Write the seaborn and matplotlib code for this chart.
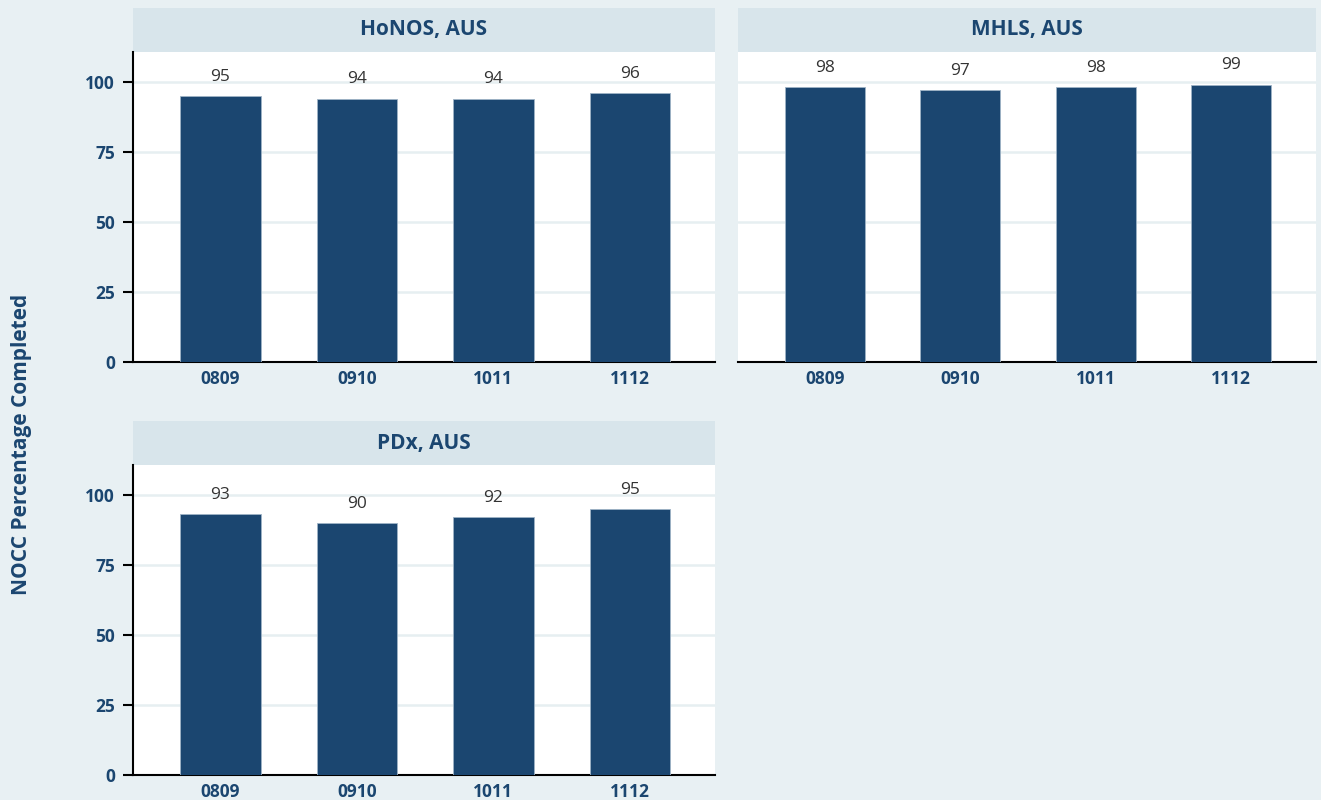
import matplotlib.pyplot as plt
import matplotlib.patches as mpatches
import pandas as pd
import seaborn as sns

# Dados
years = ['0809', '0910', '1011', '1112']
honos = [95, 94, 94, 96]
mhls = [98, 97, 98, 99]
pdx = [93, 90, 92, 95]
panel_titles = ['HoNOS, AUS', 'MHLS, AUS', 'PDx, AUS']

df = pd.DataFrame({
    'year': years * 3,
    'value': honos + mhls + pdx,
    'panel': [t for t in panel_titles for _ in years],
})

bg = '#E8F0F3'
bar_color = '#1B4670'
text_blue = '#1B4670'
header_color = '#D8E5EB'
grid_color = '#E6EFF1'

sns.set_theme(style='white')
plt.rcParams['font.family'] = ['Open Sans', 'DejaVu Sans']

fig = plt.figure(figsize=(13.21, 8), dpi=100, facecolor=bg)

# posicoes dos paineis em fracao da figura
positions = [
    [0.1007, 0.5475, 0.4406, 0.3875],
    [0.5587, 0.5475, 0.4375, 0.3875],
    [0.1007, 0.03125, 0.4406, 0.3875],
]

for i, (title, pos) in enumerate(zip(panel_titles, positions)):
    ax = fig.add_axes(pos)
    ax.set_facecolor('white')
    sub = df[df['panel'] == title]
    sns.barplot(data=sub, x='year', y='value', order=years, color=bar_color,
                saturation=1, width=0.59, ax=ax, zorder=3,
                edgecolor='#9FB3C6', linewidth=0.6)
    ax.bar_label(ax.containers[0], fmt='%d', padding=8, fontsize=12.5, color='#333333')

    ax.set_xlim(-0.64, 3.625)
    ax.set_ylim(0, 110.6)
    ax.set_yticks([0, 25, 50, 75, 100])
    ax.yaxis.grid(True, color=grid_color, linewidth=1.8, zorder=0)
    ax.set_axisbelow(True)
    ax.set_xlabel('')
    ax.set_ylabel('')

    for side in ['top', 'right']:
        ax.spines[side].set_visible(False)
    ax.spines['bottom'].set_color('black')
    ax.spines['bottom'].set_linewidth(1.5)
    ax.tick_params(axis='x', length=0, pad=6, labelsize=12.5, labelcolor=text_blue)
    for lbl in ax.get_xticklabels():
        lbl.set_fontweight('bold')

    if i == 1:
        ax.spines['left'].set_visible(False)
        ax.tick_params(axis='y', length=0, labelleft=False)
    else:
        ax.spines['left'].set_color('black')
        ax.spines['left'].set_linewidth(1.5)
        ax.tick_params(axis='y', length=7, width=1.5, color='black', direction='out',
                       pad=6, labelsize=12.5, labelcolor=text_blue, left=True)
        for lbl in ax.get_yticklabels():
            lbl.set_fontweight('bold')

    # cabecalho do painel
    hdr = 44 / 310
    ax.add_patch(mpatches.Rectangle((0, 1), 1, hdr, transform=ax.transAxes,
                                    facecolor=header_color, edgecolor='none', clip_on=False))
    ax.text(0.5, 1 + hdr / 2, title, transform=ax.transAxes, ha='center', va='center',
            fontsize=15, fontweight='bold', color=text_blue)

fig.text(0.0166, 0.444, 'NOCC Percentage Completed', rotation=90, ha='center', va='center',
         fontsize=15, fontweight='bold', color=text_blue)

fig.savefig('out.png', dpi=100, facecolor=bg)
